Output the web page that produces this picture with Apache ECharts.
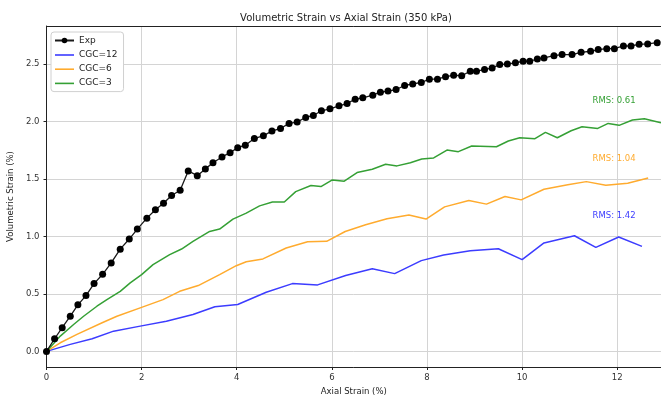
<!DOCTYPE html>
<html><head><meta charset="utf-8">
<script src="https://cdn.jsdelivr.net/npm/echarts@6/dist/echarts.min.js"></script>
<style>html,body{margin:0;padding:0;background:#fff;overflow:hidden;}#c{width:661px;height:395px;}</style>
</head><body><div id="c"></div>
<script>
const expX = [0,0.17,0.33,0.50,0.66,0.83,1.00,1.18,1.36,1.55,1.74,1.91,2.11,2.29,2.46,2.63,2.81,2.98,3.17,3.34,3.50,3.69,3.86,4.02,4.18,4.37,4.56,4.74,4.92,5.10,5.27,5.45,5.61,5.78,5.96,6.15,6.32,6.49,6.65,6.86,7.02,7.18,7.35,7.53,7.70,7.88,8.05,8.22,8.39,8.56,8.73,8.91,9.04,9.21,9.37,9.53,9.69,9.86,10.02,10.16,10.32,10.46,10.67,10.84,11.05,11.24,11.44,11.60,11.78,11.94,12.13,12.29,12.46,12.64,12.84];
const expY = [0,0.11,0.206,0.306,0.405,0.486,0.59,0.671,0.77,0.89,0.978,1.065,1.16,1.233,1.29,1.357,1.403,1.571,1.53,1.589,1.643,1.693,1.73,1.774,1.795,1.853,1.878,1.918,1.941,1.985,1.997,2.037,2.054,2.095,2.112,2.138,2.158,2.196,2.208,2.231,2.257,2.266,2.280,2.315,2.329,2.341,2.370,2.370,2.392,2.404,2.40,2.44,2.44,2.454,2.468,2.497,2.503,2.512,2.526,2.526,2.546,2.555,2.575,2.584,2.584,2.604,2.613,2.628,2.636,2.636,2.659,2.659,2.674,2.677,2.688];

const cgc12X = [0,0.50,0.96,1.41,1.97,2.52,3.08,3.54,4.02,4.62,5.17,5.70,6.29,6.85,7.32,7.88,8.35,8.91,9.50,10.0,10.46,11.1,11.55,12.03,12.52];
const cgc12Y = [0,0.061,0.110,0.176,0.22,0.263,0.321,0.388,0.408,0.515,0.59,0.579,0.66,0.72,0.677,0.79,0.839,0.877,0.894,0.799,0.944,1.007,0.905,0.996,0.914];

const cgc6X = [0,0.29,0.64,1.17,1.48,1.97,2.45,2.80,3.19,3.64,3.99,4.2,4.55,5.04,5.49,5.89,6.28,6.71,7.16,7.62,7.98,8.37,8.88,9.25,9.64,9.98,10.46,10.96,11.35,11.76,12.22,12.65];
const cgc6Y = [0,0.075,0.148,0.249,0.306,0.379,0.451,0.523,0.573,0.668,0.746,0.78,0.805,0.90,0.955,0.958,1.044,1.102,1.155,1.187,1.152,1.258,1.313,1.282,1.348,1.319,1.412,1.45,1.478,1.447,1.464,1.51];

const cgc3X = [0,0.29,0.57,0.78,1.06,1.27,1.55,1.76,2.0,2.24,2.59,2.84,3.08,3.43,3.64,3.92,4.2,4.48,4.75,5.0,5.24,5.56,5.77,6.01,6.26,6.53,6.85,7.13,7.37,7.65,7.89,8.14,8.42,8.66,8.94,9.46,9.71,9.95,10.27,10.49,10.74,11.03,11.26,11.59,11.81,12.04,12.32,12.57,12.92];
const cgc3Y = [0,0.133,0.234,0.306,0.393,0.451,0.523,0.596,0.668,0.755,0.842,0.891,0.957,1.044,1.065,1.152,1.204,1.267,1.30,1.30,1.391,1.444,1.435,1.493,1.482,1.557,1.586,1.629,1.615,1.643,1.675,1.684,1.753,1.739,1.788,1.782,1.832,1.860,1.852,1.907,1.860,1.921,1.956,1.941,1.985,1.968,2.014,2.025,1.990];

const seriesNames = ['Exp','CGC=12','CGC=6','CGC=3'];
const rmsTexts = ['RMS: 1.42','RMS: 1.04','RMS: 0.61'];
const rmsPos = [[11.48,1.179],[11.48,1.675],[11.48,2.18]];
const xTicks = [0,2,4,6,8,10,12];
const yTicks = [0.0,0.5,1.0,1.5,2.0,2.5];

const zip = (a,b) => a.map((v,i)=>[v,b[i]]);
const FONT = 'DejaVu Sans';
const colBlue = '#3c3cff', colOrange = '#ffab2e', colGreen = '#35a035';
const lineIcon = 'path://M0,0 L0,0 M0,3 L19,3 L19,4.6 L0,4.6 Z M19,7 L19,7';

function rmsMark(i, col){
  return {
    symbol:'circle', symbolSize:0, silent:true, animation:false,
    data:[{coord:rmsPos[i], value:0}],
    label:{show:true, position:'right', distance:0, formatter:rmsTexts[i], color:col, fontFamily:FONT, fontSize:8.5}
  };
}

const chart = echarts.init(document.getElementById('c'), null, {renderer:'canvas'});
chart.setOption({
  animation:false,
  backgroundColor:'#fff',
  title:{text:'Volumetric Strain vs Axial Strain (350 kPa)', left:341, top:8, textAlign:'center',
    textStyle:{fontFamily:FONT, fontSize:10, fontWeight:'normal', color:'#222'}},
  grid:{left:46.5, right:0, top:26, bottom:28, containLabel:false, outerBoundsMode:'none'},
  legend:{
    data:[
      {name:seriesNames[0]},
      {name:seriesNames[1], icon:lineIcon},
      {name:seriesNames[2], icon:lineIcon},
      {name:seriesNames[3], icon:lineIcon}
    ],
    orient:'vertical', left:51, top:32,
    itemWidth:19, itemHeight:7, itemGap:5.2, padding:[4,6,4,3],
    backgroundColor:'#fff', borderColor:'#d0d0d0', borderWidth:1, borderRadius:3,
    textStyle:{fontFamily:FONT, fontSize:9, color:'#222'}
  },
  xAxis:[{
    type:'value', min:0, max:12.92, interval:2,
    name:'Axial Strain (%)', nameLocation:'middle', nameGap:20,
    nameTextStyle:{fontFamily:FONT, fontSize:8.5, color:'#222'},
    axisLine:{show:true, onZero:false, lineStyle:{color:'#222', width:1}},
    axisTick:{show:true, length:3, lineStyle:{color:'#222'}},
    axisLabel:{showMaxLabel:false, fontFamily:FONT, fontSize:8.5, color:'#333', margin:6,
      formatter:v=> xTicks.includes(v) ? String(v) : ''},
    splitLine:{show:true, lineStyle:{color:'#d4d4d4', width:1}}
  },{
    type:'value', position:'top', min:0, max:12.92,
    axisLine:{show:true, onZero:false, lineStyle:{color:'#222', width:1}},
    axisTick:{show:false}, axisLabel:{show:false}, splitLine:{show:false}
  }],
  yAxis:{
    type:'value', min:-0.136, max:2.833, splitNumber:5,
    name:'Volumetric Strain (%)', nameLocation:'middle', nameGap:26, nameRotate:90,
    nameTextStyle:{fontFamily:FONT, fontSize:8.5, color:'#222'},
    axisLine:{show:true, onZero:false, lineStyle:{color:'#222', width:1}},
    axisTick:{show:true, length:3, lineStyle:{color:'#222'}},
    axisLabel:{showMinLabel:false, showMaxLabel:false, fontFamily:FONT, fontSize:8.5, color:'#333', margin:7,
      formatter:v=> yTicks.some(t=>Math.abs(t-v)<1e-9) ? v.toFixed(1) : ''},
    splitLine:{show:true, lineStyle:{color:'#d4d4d4', width:1}}
  },
  series:[
    {name:'Exp', type:'line', data:zip(expX,expY), symbol:'circle', symbolSize:7, showSymbol:true,
      itemStyle:{color:'#000'}, lineStyle:{color:'#1a1a1a', width:1.3}, z:5},
    {name:'CGC=12', type:'line', data:zip(cgc12X,cgc12Y), symbol:'none', showSymbol:false,
      itemStyle:{color:colBlue}, lineStyle:{color:colBlue, width:1.5}, markPoint:rmsMark(0,colBlue)},
    {name:'CGC=6', type:'line', data:zip(cgc6X,cgc6Y), symbol:'none', showSymbol:false,
      itemStyle:{color:colOrange}, lineStyle:{color:colOrange, width:1.5}, markPoint:rmsMark(1,colOrange)},
    {name:'CGC=3', type:'line', data:zip(cgc3X,cgc3Y), symbol:'none', showSymbol:false,
      itemStyle:{color:colGreen}, lineStyle:{color:colGreen, width:1.5}, markPoint:rmsMark(2,colGreen)}
  ]
});
</script></body></html>
